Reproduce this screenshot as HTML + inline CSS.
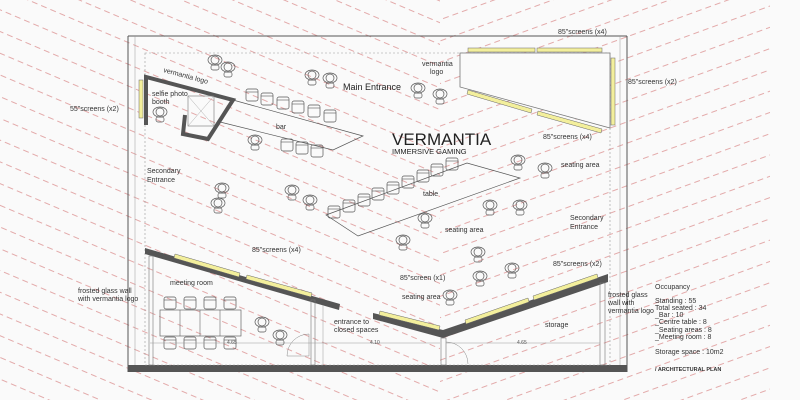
<!DOCTYPE html>
<html><head><meta charset="utf-8"><style>
html,body{margin:0;padding:0;background:#fafafa;}
svg{display:block;font-family:"Liberation Sans",sans-serif;}
.t{font-size:7px;fill:#333;}
.s{font-size:5px;fill:#555;}
.p{fill:none;stroke:#555;stroke-width:0.7;}
</style></head><body>
<svg width="800" height="400" viewBox="0 0 800 400" xmlns="http://www.w3.org/2000/svg">
<defs>
<pattern id="pl" width="200" height="20" patternUnits="userSpaceOnUse" patternTransform="rotate(23)">
<line x1="0" y1="9" x2="200" y2="9" stroke="#cc5a5a" stroke-width="0.5" stroke-dasharray="6,4"/>
</pattern>
<pattern id="pr" width="200" height="20" patternUnits="userSpaceOnUse" patternTransform="rotate(-20)">
<line x1="0" y1="9" x2="200" y2="9" stroke="#cc5a5a" stroke-width="0.5" stroke-dasharray="6,4"/>
</pattern>
<g id="per"><circle cx="0" cy="0" r="4" class="p"/><ellipse cx="0" cy="0" rx="7" ry="5" class="p"/><rect x="-4" y="5" width="8" height="5" rx="2" class="p"/></g>
<g id="ch"><rect x="-6" y="-6" width="12" height="12" rx="2" class="p"/><line x1="-6" y1="-3" x2="6" y2="-3" stroke="#555" stroke-width="0.6"/></g>
</defs>
<rect width="800" height="400" fill="#fafafa"/>
<rect x="0" y="0" width="440" height="400" fill="url(#pl)"/>
<rect x="440" y="0" width="330" height="400" fill="url(#pr)"/>

<line x1="128" y1="36" x2="627" y2="36" stroke="#555" stroke-width="1"/>
<line x1="128" y1="36" x2="128" y2="372" stroke="#555" stroke-width="1"/>
<line x1="627" y1="36" x2="627" y2="372" stroke="#555" stroke-width="1"/>
<rect x="128" y="365" width="499" height="7" fill="#555"/>
<rect x="145" y="53" width="465" height="312" fill="none" stroke="#999" stroke-width="0.6" stroke-dasharray="2,2"/>
<line x1="135" y1="36" x2="135" y2="365" stroke="#999" stroke-width="0.5"/>
<line x1="620" y1="36" x2="620" y2="365" stroke="#999" stroke-width="0.5"/>

<polygon points="460,53 610,53 610,128 460,87" fill="#fafafa" stroke="#777" stroke-width="0.8"/>
<rect x="468" y="48" width="67" height="4" fill="#f3ef9c" stroke="#666" stroke-width="0.5"/>
<rect x="537" y="48" width="65" height="4" fill="#f3ef9c" stroke="#666" stroke-width="0.5"/>
<rect x="611" y="58" width="4" height="67" fill="#f3ef9c" stroke="#666" stroke-width="0.5"/>
<polygon points="468,90 532,109 531,113 467,94" fill="#f3ef9c" stroke="#666" stroke-width="0.5"/>
<polygon points="538,111 602,129 601,133 537,115" fill="#f3ef9c" stroke="#666" stroke-width="0.5"/>

<rect x="139" y="80" width="4" height="38" fill="#f3ef9c" stroke="#666" stroke-width="0.5"/>
<polyline points="146,125 146,77 233,100 208,139 183,134 185,115" fill="none" stroke="#555" stroke-width="4"/>
<rect x="188" y="96" width="26" height="30" fill="none" stroke="#777" stroke-width="0.6"/>
<line x1="188" y1="96" x2="214" y2="126" stroke="#999" stroke-width="0.4"/><line x1="214" y1="96" x2="188" y2="126" stroke="#999" stroke-width="0.4"/>
<polygon points="233,100 363,136 333,150 220,122" fill="none" stroke="#555" stroke-width="0.7"/>
<use href="#ch" x="252" y="95"/><use href="#ch" x="267" y="99"/><use href="#ch" x="283" y="103"/><use href="#ch" x="298" y="107"/><use href="#ch" x="314" y="111"/><use href="#ch" x="330" y="116"/>
<use href="#ch" x="287" y="145"/><use href="#ch" x="302" y="148"/><use href="#ch" x="317" y="151"/>

<polygon points="326,215 467,163 520,178 358,236" fill="none" stroke="#555" stroke-width="0.7"/>
<use href="#ch" x="334" y="212"/><use href="#ch" x="349" y="206"/><use href="#ch" x="364" y="200"/><use href="#ch" x="378" y="194"/><use href="#ch" x="393" y="188"/><use href="#ch" x="408" y="182"/><use href="#ch" x="423" y="176"/><use href="#ch" x="437" y="170"/><use href="#ch" x="452" y="164"/>

<polygon points="145,248 340,304 339,310 145,254" fill="#555"/>
<polygon points="175,254 240,273 239,277 174,258" fill="#f3ef9c" stroke="#666" stroke-width="0.5"/>
<polygon points="247,275 312,293 311,297 246,279" fill="#f3ef9c" stroke="#666" stroke-width="0.5"/>
<rect x="149" y="256" width="4" height="109" fill="none" stroke="#777" stroke-width="0.6"/>
<rect x="311" y="300" width="4" height="65" fill="none" stroke="#777" stroke-width="0.6"/>
<line x1="323" y1="305" x2="323" y2="365" stroke="#999" stroke-width="0.5"/>
<path d="M287,356 A22,22 0 0 1 309,334 L309,356 Z" fill="none" stroke="#888" stroke-width="0.5"/>
<rect x="160" y="310" width="81" height="26" fill="none" stroke="#666" stroke-width="0.7"/>
<line x1="180" y1="310" x2="180" y2="336" stroke="#666" stroke-width="0.6"/><line x1="200" y1="310" x2="200" y2="336" stroke="#666" stroke-width="0.6"/><line x1="220" y1="310" x2="220" y2="336" stroke="#666" stroke-width="0.6"/>
<use href="#ch" x="170" y="303"/><use href="#ch" x="190" y="303"/><use href="#ch" x="210" y="303"/><use href="#ch" x="230" y="303"/>
<use href="#ch" x="170" y="343"/><use href="#ch" x="190" y="343"/><use href="#ch" x="210" y="343"/><use href="#ch" x="230" y="343"/>
<line x1="150" y1="343" x2="440" y2="343" stroke="#999" stroke-width="0.5"/>

<polygon points="373,313 443,330 608,274 608,282 443,338 373,319" fill="#555"/>
<polygon points="380,311 440,326 439,330 379,315" fill="#f3ef9c" stroke="#666" stroke-width="0.5"/>
<polygon points="465,320 528,298 529,302 466,324" fill="#f3ef9c" stroke="#666" stroke-width="0.5"/>
<polygon points="533,296 597,274 598,278 534,300" fill="#f3ef9c" stroke="#666" stroke-width="0.5"/>
<rect x="441" y="338" width="5" height="27" fill="none" stroke="#777" stroke-width="0.6"/>
<rect x="600" y="283" width="5" height="82" fill="none" stroke="#777" stroke-width="0.6"/>
<path d="M446,342 A22,22 0 0 1 468,364" fill="none" stroke="#888" stroke-width="0.5"/>
<line x1="446" y1="343" x2="600" y2="343" stroke="#999" stroke-width="0.5"/>

<use href="#per" x="215" y="60"/><use href="#per" x="228" y="67"/><use href="#per" x="312" y="75"/><use href="#per" x="330" y="78"/>
<use href="#per" x="418" y="88"/><use href="#per" x="440" y="94"/><use href="#per" x="160" y="112"/><use href="#per" x="255" y="140"/>
<use href="#per" x="222" y="188"/><use href="#per" x="218" y="203"/><use href="#per" x="292" y="190"/><use href="#per" x="310" y="200"/>
<use href="#per" x="518" y="160"/><use href="#per" x="545" y="168"/><use href="#per" x="403" y="240"/><use href="#per" x="425" y="218"/>
<use href="#per" x="490" y="205"/><use href="#per" x="520" y="205"/><use href="#per" x="478" y="252"/><use href="#per" x="480" y="276"/>
<use href="#per" x="512" y="268"/><use href="#per" x="450" y="295"/><use href="#per" x="262" y="322"/><use href="#per" x="280" y="335"/>

<text x="392" y="145" style="font-size:17px;fill:#222">VERMANTIA</text>
<text x="392" y="154" style="font-size:7.5px;fill:#222">IMMERSIVE GAMING</text>
<text x="343" y="90" style="font-size:9px;fill:#222">Main Entrance</text>
<text x="163" y="72" class="t" transform="rotate(15 163 72)">vermantia logo</text>
<text x="152" y="96" class="t">selfie photo</text><text x="152" y="104" class="t">booth</text>
<text x="70" y="111" class="t">55"screens (x2)</text>
<text x="276" y="129" class="t">bar</text>
<text x="147" y="173" class="t">Secondary</text><text x="147" y="182" class="t">Entrance</text>
<text x="422" y="66" class="t">vermantia</text><text x="430" y="74" class="t">logo</text>
<text x="558" y="34" class="t">85"screens (x4)</text>
<text x="628" y="84" class="t">85"screens (x2)</text>
<text x="543" y="139" class="t">85"screens (x4)</text>
<text x="561" y="167" class="t">seating area</text>
<text x="423" y="196" class="t">table</text>
<text x="570" y="220" class="t">Secondary</text><text x="570" y="229" class="t">Entrance</text>
<text x="445" y="232" class="t">seating area</text>
<text x="252" y="252" class="t">85"screens (x4)</text>
<text x="553" y="266" class="t">85"screens (x2)</text>
<text x="400" y="280" class="t">85"screen (x1)</text>
<text x="402" y="299" class="t">seating area</text>
<text x="170" y="285" class="t">meeting room</text>
<text x="78" y="293" class="t">frosted glass wall</text><text x="78" y="301" class="t">with vermantia logo</text>
<text x="608" y="297" class="t">frosted glass</text><text x="608" y="305" class="t">wall with</text><text x="608" y="313" class="t">vermantia logo</text>
<text x="334" y="324" class="t">entrance to</text><text x="334" y="332" class="t">closed spaces</text>
<text x="545" y="327" class="t">storage</text>
<text x="227" y="344" class="s">4.65</text><text x="370" y="344" class="s">4.10</text><text x="517" y="344" class="s">4.65</text>
<text x="655" y="289" class="t">Occupancy</text>
<text x="655" y="303" class="t">Standing : 55</text>
<text x="655" y="310" class="t">Total seated : 34</text>
<text x="655" y="317" class="t">_Bar : 10</text>
<text x="655" y="324" class="t">_Centre table : 8</text>
<text x="655" y="332" class="t">_Seating areas : 8</text>
<text x="655" y="339" class="t">_Meeting room : 8</text>
<text x="655" y="354" class="t">Storage space : 10m2</text>
<text x="655" y="371" style="font-size:5.5px;font-weight:bold;fill:#333">/ ARCHITECTURAL PLAN</text>
</svg>
</body></html>
